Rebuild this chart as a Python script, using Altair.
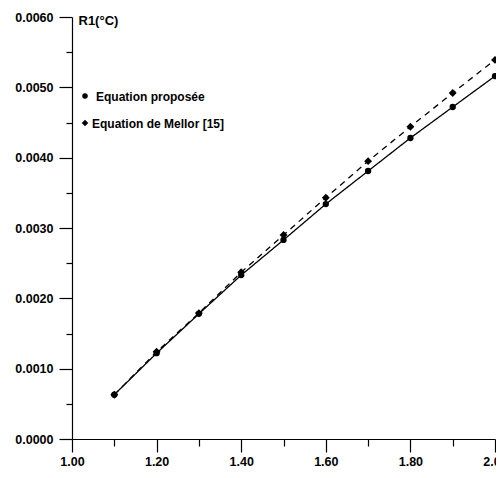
import altair as alt
import pandas as pd

x_vals = [1.1, 1.2, 1.3, 1.4, 1.5, 1.6, 1.7, 1.8, 1.9, 2.0]
proposee = [0.00063, 0.00122, 0.00178, 0.00233, 0.00283, 0.00334, 0.00381, 0.00428, 0.00472, 0.00516]
mellor = [0.00063, 0.00124, 0.00179, 0.00237, 0.00290, 0.00343, 0.00395, 0.00444, 0.00492, 0.00539]
series_names = ["Equation proposée", "Equation de Mellor [15]"]
series_shapes = ["circle", "diamond"]
x_ticks = [1.0, 1.1, 1.2, 1.3, 1.4, 1.5, 1.6, 1.7, 1.8, 1.9, 2.0]
y_ticks = [0.0, 0.0005, 0.001, 0.0015, 0.002, 0.0025, 0.003, 0.0035, 0.004, 0.0045, 0.005, 0.0055, 0.006]
y_title = "R1(°C)"

rows = []
for name, vals in zip(series_names, [proposee, mellor]):
    for xv, yv in zip(x_vals, vals):
        rows.append({"x": xv, "y": yv, "serie": name})
df = pd.DataFrame(rows)
legend_df = pd.DataFrame({"serie": series_names, "shape": series_shapes})

FONT = "Liberation Sans"

x_axis = alt.Axis(
    values=x_ticks,
    labelExpr="round(datum.value*10) % 2 == 1 ? '' : format(datum.value, '.2f')",
    tickSize={"condition": {"test": "round(datum.value*10) % 2 == 1", "value": 7}, "value": 13},
    labelPadding=3,
    labelFlush=False,
    labelBound=False,
    labelOverlap=False,
    grid=False,
    title=None,
)
y_axis = alt.Axis(
    values=y_ticks,
    labelExpr="round(datum.value*2000) % 2 == 1 ? '' : format(datum.value, '.4f')",
    tickSize={"condition": {"test": "round(datum.value*2000) % 2 == 1", "value": 6}, "value": 13},
    labelPadding=6,
    labelFlush=False,
    labelBound=False,
    labelOverlap=False,
    grid=False,
    title=y_title,
    titleAngle=0,
    titleAlign="left",
    titleBaseline="middle",
    titleX=6,
    titleY=3,
    titleFont=FONT,
    titleFontSize=13,
    titleFontWeight="bold",
    titleColor="black",
)

xenc = alt.X("x:Q", scale=alt.Scale(domain=[1.0, 2.0], nice=False, zero=False), axis=x_axis)
yenc = alt.Y("y:Q", scale=alt.Scale(domain=[0.0, 0.006], nice=False), axis=y_axis)

lines = alt.Chart(df).mark_line(color="black", strokeWidth=1.3).encode(
    x=xenc,
    y=yenc,
    strokeDash=alt.StrokeDash(
        "serie:N",
        scale=alt.Scale(domain=series_names, range=[[1, 0], [6, 5]]),
        legend=None,
    ),
)

points = alt.Chart(df).mark_point(filled=True, color="black", opacity=1).encode(
    x=xenc,
    y=yenc,
    size=alt.Size(
        "serie:N",
        scale=alt.Scale(domain=series_names, range=[40, 62]),
        legend=None,
    ),
    shape=alt.Shape(
        "serie:N",
        scale=alt.Scale(domain=series_names, range=series_shapes),
        legend=None,
    ),
)

# hand-made legend (top-left, inside the plot area)
legend_pos = {series_names[0]: (13, 79, 24, 80), series_names[1]: (13, 106, 20, 107)}
legend_layers = []
for name, shp in zip(series_names, series_shapes):
    sx, sy, tx, ty = legend_pos[name]
    base = alt.Chart(legend_df).transform_filter(alt.datum.serie == name)
    legend_layers.append(
        base.mark_point(filled=True, color="black", opacity=1, shape=shp, size=30 if shp == "circle" else 42).encode(
            x=alt.value(sx), y=alt.value(sy)
        )
    )
    legend_layers.append(
        base.mark_text(
            align="left", baseline="middle", font=FONT, fontSize=12, fontWeight="bold", color="black"
        ).encode(x=alt.value(tx), y=alt.value(ty), text="serie:N")
    )

chart = (
    alt.layer(lines, points, *legend_layers)
    .properties(
        width=423,
        height=422,
        autosize=alt.AutoSizeParams(type="none"),
        padding={"left": 64, "top": 9, "right": 1, "bottom": 31},
        background="white",
    )
    .configure_view(stroke=None)
    .configure_axis(
        labelFont=FONT,
        labelFontSize=12.5,
        labelFontWeight="bold",
        labelColor="black",
        domainColor="black",
        tickColor="black",
        domainWidth=1.2,
        tickWidth=1.2,
    )
)

chart.save("out.html", embed_options={"renderer": "svg", "actions": False})
